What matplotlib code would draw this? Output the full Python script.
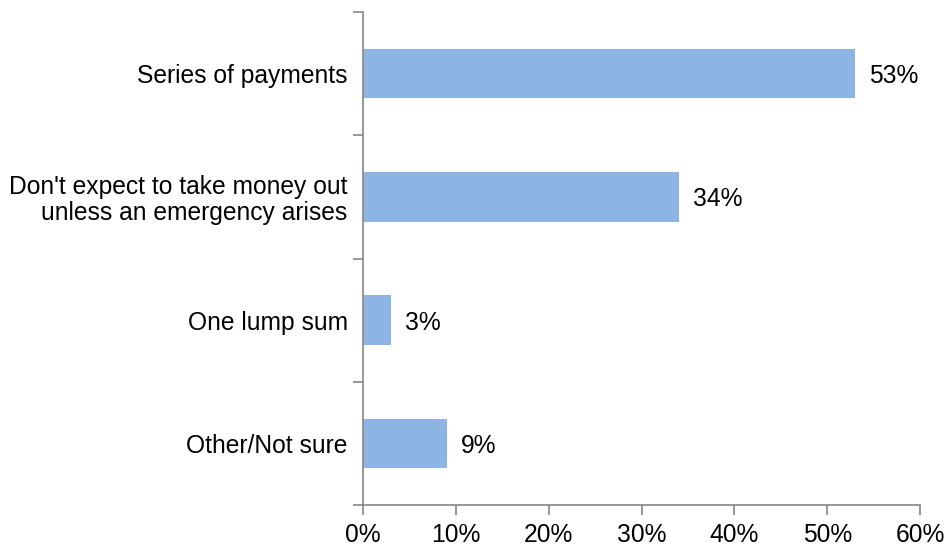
import numpy as np
import matplotlib.pyplot as plt
from matplotlib.ticker import FixedLocator, NullFormatter

plt.rcParams['font.family'] = ['Liberation Sans', 'DejaVu Sans']

categories = ['Series of payments',
              "Don't expect to take money out\nunless an emergency arises",
              'One lump sum',
              'Other/Not sure']
values = [53, 34, 3, 9]
xticks = [0, 10, 20, 30, 40, 50, 60]

FS = 17.7

fig = plt.figure(figsize=(9.51, 5.48), dpi=100)
ax = fig.add_axes([363/951, 1-505/548, (920-363)/951, (505-12)/548])

y = np.arange(len(categories))
ax.barh(y, values, height=0.4, color='#8EB4E3', zorder=2)
for yi, v in zip(y, values):
    ax.text(v + 1.5, yi, f'{v}%', va='center_baseline', ha='left', fontsize=FS, color='black')

ax.set_xlim(0, 60)
ax.set_ylim(len(categories) - 0.5, -0.5)
ax.set_xticks(xticks)
ax.set_xticklabels([f'{t}%' for t in xticks], fontsize=FS)

# category labels centered, ticks at boundaries
ax.set_yticks(y)
ax.set_yticklabels(categories, fontsize=FS, multialignment='right', linespacing=1.1)
ax.tick_params(axis='y', which='major', length=0, pad=11)
ax.yaxis.set_minor_locator(FixedLocator(np.arange(-0.5, len(categories), 1)))
ax.yaxis.set_minor_formatter(NullFormatter())
ax.tick_params(axis='y', which='minor', length=7, color='#868686', width=1.2)
ax.tick_params(axis='x', length=7, color='#868686', width=1.2, pad=6)

for s in ['top', 'right']:
    ax.spines[s].set_visible(False)
for s in ['left', 'bottom']:
    ax.spines[s].set_color('#868686')
    ax.spines[s].set_linewidth(1.2)

plt.savefig('out.png')
